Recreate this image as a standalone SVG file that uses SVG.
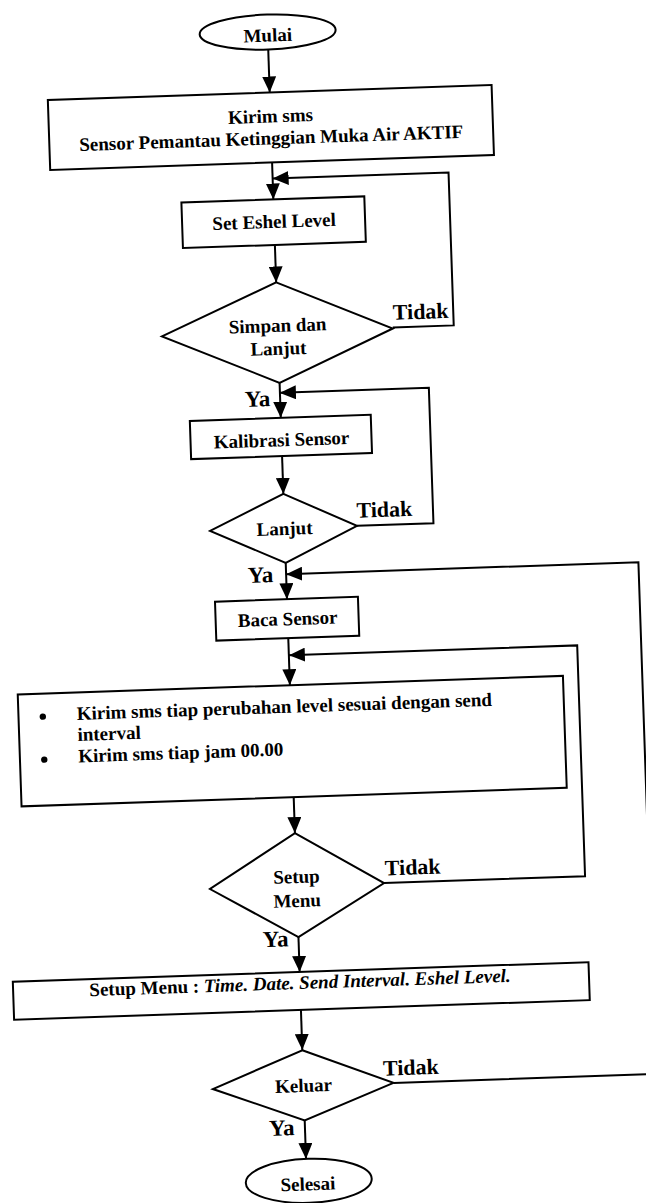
<svg xmlns="http://www.w3.org/2000/svg" width="646" height="1203" viewBox="0 0 646 1203">
<style>
.s{fill:#fff;stroke:#000;stroke-width:2}
.c{fill:none;stroke:#000;stroke-width:2}
.t{font-family:"Liberation Serif","Times New Roman",serif;font-weight:bold;font-size:19px;fill:#000;text-anchor:middle}
.l{font-family:"Liberation Serif","Times New Roman",serif;font-weight:bold;font-size:22px;fill:#000}
.y{font-size:23px}
.i{font-style:italic}
</style>
<defs>
<marker id="ah" viewBox="0 0 16 14" refX="16" refY="7" markerWidth="16" markerHeight="14" markerUnits="userSpaceOnUse" orient="auto">
<path d="M0,0 L16,7 L0,14 z" fill="#000"/>
</marker>
</defs>
<rect x="0" y="0" width="646" height="1203" fill="#fff"/>
<g transform="rotate(-1.95 323 600)">
<g id="connectors" class="c" marker-end="url(#ah)">
<path d="M287,48 V91"/>
<path d="M287,161 V198"/>
<path d="M402,330 H463 V177 H287"/>
<path d="M287,243.5 V281"/>
<path d="M287,381.5 V416.5"/>
<path d="M359.5,527 H436 V391.5 H287"/>
<path d="M287,454.7 V492.6"/>
<path d="M287,561.7 V598"/>
<path d="M377,1085 H639.5 V573 H287"/>
<path d="M287,637 V684"/>
<path d="M374.4,885 H575.5 V654 H287"/>
<path d="M287,796 V832"/>
<path d="M287,936 V971"/>
<path d="M287,1009 V1049"/>
<path d="M287,1119.4 V1158"/>
</g>
<g id="mulai"><ellipse class="s" cx="287" cy="30.5" rx="68" ry="17.5"/><text class="t" x="287" y="40">Mulai</text></g>
<g id="kirim"><rect class="s" x="65" y="91" width="444" height="70"/><text class="t" x="287" y="121">Kirim sms</text><text class="t" x="287" y="143">Sensor Pemantau Ketinggian Muka Air AKTIF</text></g>
<g id="eshel"><rect class="s" x="195" y="198" width="183" height="45.5"/><text class="t" x="287" y="226.5">Set Eshel Level</text></g>
<g id="simpan"><polygon class="s" points="287,281 402,331 287,381.5 171,331"/><text class="t" x="287" y="330.5">Simpan dan</text><text class="t" x="287" y="353.5">Lanjut</text></g>
<g id="kalibrasi"><rect class="s" x="196" y="416.5" width="181" height="38.2"/><text class="t" x="287" y="445">Kalibrasi Sensor</text></g>
<g id="lanjut"><polygon class="s" points="287,492.6 359.5,527 287,561.7 212.5,527"/><text class="t" x="287" y="533.7">Lanjut</text></g>
<g id="baca"><rect class="s" x="215" y="598" width="143" height="39"/><text class="t" x="287" y="624">Baca Sensor</text></g>
<g id="kirimsms"><rect class="s" x="14.7" y="684" width="545.5" height="112"/>
<circle cx="39" cy="707" r="3.2" fill="#000"/><circle cx="39" cy="750" r="3.2" fill="#000"/>
<text class="t" style="text-anchor:start" x="73" y="711.5">Kirim sms tiap perubahan level sesuai dengan send</text>
<text class="t" style="text-anchor:start" x="73" y="732.5">interval</text>
<text class="t" style="text-anchor:start" x="73" y="754">Kirim sms tiap jam 00.00</text></g>
<g id="setupq"><polygon class="s" points="287,832 374.4,885 287,936 200.2,885"/><text class="t" x="287" y="882">Setup</text><text class="t" x="287" y="906">Menu</text></g>
<g id="setupmenu"><rect class="s" x="0" y="971" width="576" height="38"/><text class="t" x="287" y="988">Setup Menu : <tspan class="i">Time. Date. Send Interval. Eshel Level.</tspan></text></g>
<g id="keluar"><polygon class="s" points="287,1049.3 377,1085 287,1119.4 196.3,1085"/><text class="t" x="287" y="1091">Keluar</text></g>
<g id="selesai"><ellipse class="s" cx="289" cy="1180" rx="63" ry="22"/><text class="t" x="288" y="1189.5">Selesai</text></g>
<g id="labels">
<text class="l" x="402.5" y="322.4">Tidak</text>
<text class="l" x="359.5" y="519">Tidak</text>
<text class="l" x="375.6" y="877.4">Tidak</text>
<text class="l" x="367" y="1077.5">Tidak</text>
<text class="l y" x="251.6" y="404.4">Ya</text>
<text class="l y" x="248.6" y="580.5">Ya</text>
<text class="l y" x="251.3" y="945">Ya</text>
<text class="l y" x="251" y="1133.8">Ya</text>
</g>
</g>
</svg>
